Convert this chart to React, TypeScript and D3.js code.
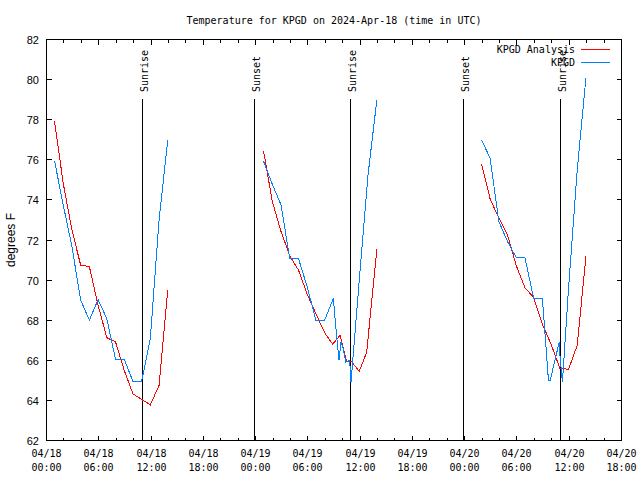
import React from "react";
import * as d3 from "d3";

const W = 640;
const H = 480;
const TITLE = "Temperature for KPGD on 2024-Apr-18 (time in UTC)";
const Y_LABEL = "degrees F";
const START_MS = Date.UTC(2024, 3, 18, 0, 0);
const SPAN_HOURS = 66;

// Hours since 2024-04-18 00:00 UTC; null marks a gap in the series
const analysisHours = [
  0.92, 1.92, 2.92, 3.92, 4.92, 5.92, 6.92, 7.92, 8.92, 9.92, 10.92, 11.92, 12.92, 13.92,
  null,
  24.92, 25.92, 26.92, 27.92, 28.92, 29.92, 30.92, 31.92, 32.85, 33.69, 34.46, 35.03, 35.9, 36.75, 37.92,
  null,
  49.92, 50.92, 51.92, 52.92, 53.92, 54.92, 55.92, 56.92, 57.92, 58.92, 59.92, 60.92, 61.92,
];
const analysisTemps = [
  77.92, 74.83, 72.5, 70.75, 70.67, 68.75, 67.13, 66.92, 65.5, 64.33, 64.05, 63.78, 64.75, 69.5,
  null,
  76.42, 73.92, 72.42, 71.22, 70.5, 69.3, 68.33, 67.38, 66.8, 67.25, 65.92, 65.92, 65.45, 66.4, 71.55,
  null,
  75.8, 74.05, 73.1, 72.25, 70.72, 69.62, 69.13, 67.8, 66.8, 65.6, 65.55, 66.75, 71.2,
];

const obsHours = [
  0.92, 1.92, 2.92, 3.92, 4.92, 5.92, 6.92, 7.92, 8.92, 9.92, 10.92, 11.92, 12.92, 13.92,
  null,
  24.92, 25.92, 26.92, 27.92, 28.92, 29.92, 30.92, 31.92, 32.92, 33.35, 33.58, 33.8, 34.05, 34.35, 34.8, 34.95, 35.92, 36.92, 37.92,
  null,
  49.92, 50.92, 51.92, 52.92, 53.92, 54.92, 55.92, 56.92, 57.62, 57.8, 58.85, 58.95, 59.22, 59.92, 60.92, 61.92,
];
const obsTemps = [
  75.95, 73.75, 71.67, 69.0, 68.0, 69.03, 68.08, 66.05, 66.05, 64.95, 64.95, 67.1, 73.0, 77.0,
  null,
  75.92, 74.78, 73.75, 71.08, 71.08, 69.67, 68.0, 68.0, 69.08, 67.0, 66.0, 66.9, 66.6, 65.9, 66.0, 64.9, 70.1, 75.3, 79.0,
  null,
  77.0, 76.08, 72.92, 71.92, 71.12, 71.12, 69.08, 69.08, 64.97, 64.97, 66.9, 66.17, 64.92, 69.58, 75.5, 80.1,
];

const sunHours = [11.0, 23.82, 34.95, 47.83, 58.96];
const sunLabels = ["Sunrise", "Sunset", "Sunrise", "Sunset", "Sunrise"];

const yTicks = [62, 64, 66, 68, 70, 72, 74, 76, 78, 80, 82];
const xMajorHours = [0, 6, 12, 18, 24, 30, 36, 42, 48, 54, 60, 66];
const xMinorHours = [2, 4, 8, 10, 14, 16, 20, 22, 26, 28, 32, 34, 38, 40, 44, 46, 50, 52, 56, 58, 62, 64];

const seriesNames = ["KPGD Analysis", "KPGD"];
const seriesColors = ["#ff0000", "#0080ff"];

const MONO = "'DejaVu Sans Mono', monospace";
const SANS = "'Liberation Sans', Arial, sans-serif";

const toDate = (h: number) => new Date(START_MS + h * 3600e3);

export default function App() {
  const L = 46.5, R = 621.5, T = 39.5, B = 440.5;
  const x = d3.scaleUtc().domain([toDate(0), toDate(SPAN_HOURS)]).range([L, R]);
  const y = d3.scaleLinear().domain([62, 82]).range([B, T]);
  const fmtDay = d3.utcFormat("%m/%d");
  const fmtTime = d3.utcFormat("%H:%M");

  type P = [number | null, number | null];
  const line = d3
    .line<P>()
    .defined((d) => d[0] != null && d[1] != null)
    .x((d) => x(toDate(d[0] as number)))
    .y((d) => y(d[1] as number));

  const analysis: P[] = analysisHours.map((h, i) => [h, analysisTemps[i]]);
  const obs: P[] = obsHours.map((h, i) => [h, obsTemps[i]]);

  const px = (h: number) => Math.round(x(toDate(h)) - 0.5) + 0.5;

  return (
    <svg
      width={W}
      height={H}
      style={{ position: "absolute", left: 0, top: 0, background: "#fff" }}
    >
      <rect x={0} y={0} width={W} height={H} fill="#fff" />
      <text x={(L + R) / 2} y={24} textAnchor="middle" fontFamily={MONO} fontSize={10} fill="#000">
        {TITLE}
      </text>

      {/* y ticks */}
      {yTicks.map((t) => {
        const yy = Math.round(y(t) - 0.5) + 0.5;
        return (
          <g key={"y" + t}>
            <line x1={L} x2={L + 5} y1={yy} y2={yy} stroke="#000" shapeRendering="crispEdges" />
            <line x1={R} x2={R - 5} y1={yy} y2={yy} stroke="#000" shapeRendering="crispEdges" />
            <text x={39} y={yy + 4} textAnchor="end" fontFamily={SANS} fontSize={11} fill="#000">
              {t}
            </text>
          </g>
        );
      })}

      {/* x ticks */}
      {xMajorHours.map((h) => {
        const xx = px(h);
        const d = toDate(h);
        return (
          <g key={"xm" + h}>
            <line x1={xx} x2={xx} y1={B} y2={B - 5} stroke="#000" shapeRendering="crispEdges" />
            <line x1={xx} x2={xx} y1={T} y2={T + 5} stroke="#000" shapeRendering="crispEdges" />
            <text x={xx} y={457} textAnchor="middle" fontFamily={MONO} fontSize={10} fill="#000">
              {fmtDay(d)}
            </text>
            <text x={xx} y={471} textAnchor="middle" fontFamily={MONO} fontSize={10} fill="#000">
              {fmtTime(d)}
            </text>
          </g>
        );
      })}
      {xMinorHours.map((h) => {
        const xx = px(h);
        return (
          <g key={"xn" + h}>
            <line x1={xx} x2={xx} y1={B} y2={B - 3} stroke="#000" shapeRendering="crispEdges" />
            <line x1={xx} x2={xx} y1={T} y2={T + 3} stroke="#000" shapeRendering="crispEdges" />
          </g>
        );
      })}

      {/* sunrise / sunset */}
      {sunHours.map((h, i) => {
        const xx = px(h);
        return (
          <g key={"s" + i}>
            <line x1={xx} x2={xx} y1={99} y2={B} stroke="#000" strokeWidth={1} shapeRendering="crispEdges" />
            <text
              transform={`translate(${xx + 5.5},92) rotate(-90)`}
              fontFamily={MONO}
              fontSize={10}
              fill="#000"
            >
              {sunLabels[i]}
            </text>
          </g>
        );
      })}

      {/* series */}
      <path d={line(analysis) || ""} fill="none" stroke={seriesColors[0]} strokeWidth={1} shapeRendering="crispEdges" />
      <path d={line(obs) || ""} fill="none" stroke={seriesColors[1]} strokeWidth={1} shapeRendering="crispEdges" />

      {/* frame */}
      <rect x={L} y={T} width={R - L} height={B - T} fill="none" stroke="#000" shapeRendering="crispEdges" />

      {/* y label */}
      <text
        transform={`translate(15,240) rotate(-90)`}
        textAnchor="middle"
        fontFamily={SANS}
        fontSize={12}
        fill="#000"
      >
        {Y_LABEL}
      </text>

      {/* legend */}
      {seriesNames.map((n, i) => {
        const ly = 49.5 + i * 13;
        return (
          <g key={"lg" + i}>
            <text x={575} y={ly + 3.5} textAnchor="end" fontFamily={MONO} fontSize={10} fill="#000">
              {n}
            </text>
            <line x1={581} x2={610} y1={ly} y2={ly} stroke={seriesColors[i]} shapeRendering="crispEdges" />
          </g>
        );
      })}
    </svg>
  );
}
